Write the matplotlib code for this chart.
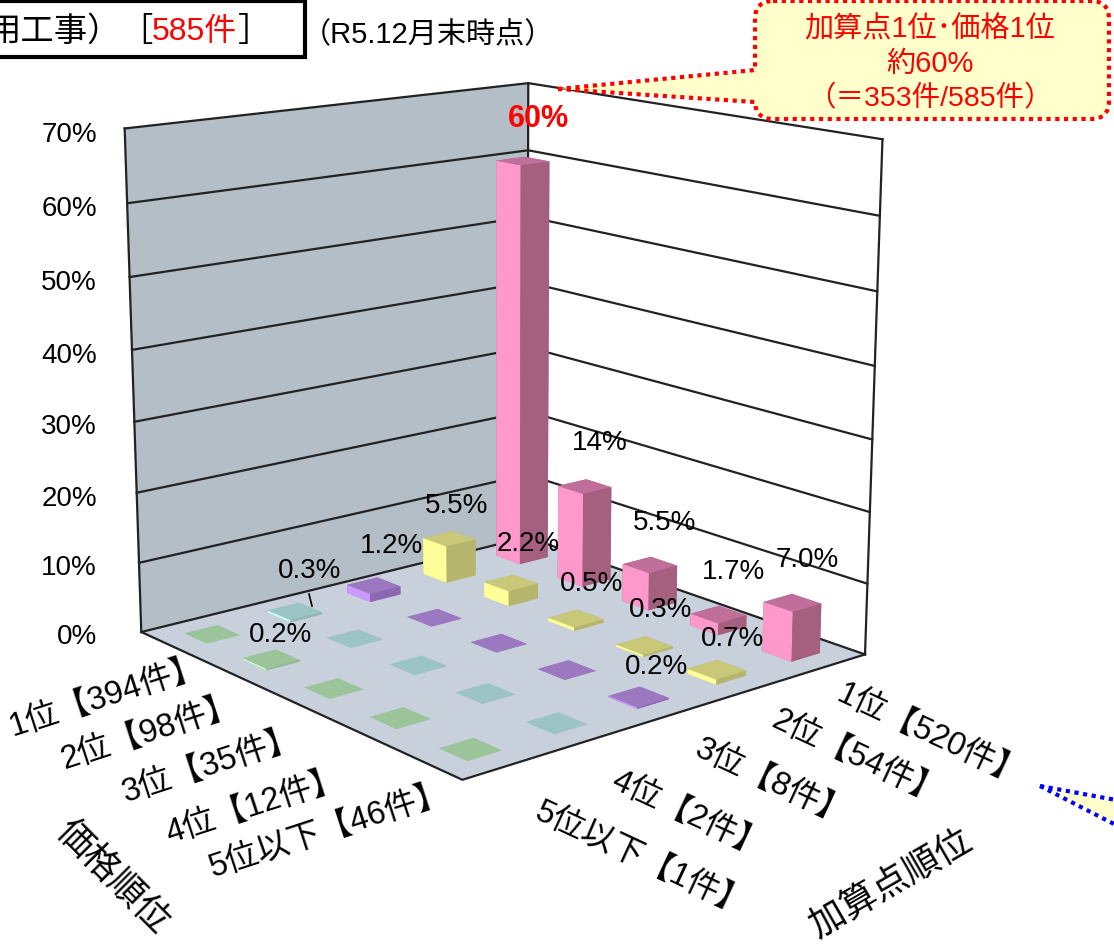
import matplotlib
matplotlib.use('Agg')
import matplotlib.pyplot as plt
from matplotlib.patches import FancyBboxPatch, Polygon, Rectangle
from mpl_toolkits.mplot3d.art3d import Poly3DCollection

plt.rcParams['font.family'] = ['Liberation Sans', 'Noto Sans CJK JP']

W, H = 1114, 945

price_labels = ['1位【394件】', '2位【98件】', '3位【35件】', '4位【12件】', '5位以下【46件】']
add_labels = ['1位【520件】', '2位【54件】', '3位【8件】', '4位【2件】', '5位以下【1件】']
z_ticks = [0, 10, 20, 30, 40, 50, 60, 70]

# rows: 加算点順位, columns: 価格順位 (percent)
add1 = [60, 14, 5.5, 1.7, 7.0]
add2 = [5.5, 2.2, 0.5, 0.3, 0.7]
add3 = [1.2, 0, 0, 0, 0.2]
add4 = [0.3, 0, 0, 0, 0]
add5 = [0, 0.2, 0, 0, 0]
rows = [add1, add2, add3, add4, add5]

# light side, dark side, top
row_colors = [
    ('#FF99CC', '#A5607F', '#BF6F99'),
    ('#FFFF99', '#B5B56E', '#C8C878'),
    ('#CC99FF', '#8C68B0', '#9C78C0'),
    ('#CCFFFF', '#8FB5B5', '#9CC4C4'),
    ('#CCFFCC', '#8FB58F', '#9BC49B'),
]

fig = plt.figure(figsize=(W / 100, H / 100), dpi=100)
ax = fig.add_axes([0, 0, 1, 1], projection='3d')
ax.computed_zorder = False
ax.set_axis_off()

# floor and walls
floor = [[(0, 0, 0), (5, 0, 0), (5, 5, 0), (0, 5, 0)]]
left_wall = [[(0, 0, 0), (5, 0, 0), (5, 0, 70), (0, 0, 70)]]
right_wall = [[(0, 0, 0), (0, 5, 0), (0, 5, 70), (0, 0, 70)]]
ax.add_collection3d(Poly3DCollection(left_wall, facecolors='#B4BEC6', edgecolors='none', zorder=1), autolim=False)
ax.add_collection3d(Poly3DCollection(right_wall, facecolors='white', edgecolors='none', zorder=1), autolim=False)
ax.add_collection3d(Poly3DCollection(floor, facecolors='#C8D0DC', edgecolors='none', zorder=1), autolim=False)

for z in z_ticks:
    ax.plot([5, 0, 0], [0, 0, 5], [z, z, z], color='#222222', lw=1.6, zorder=2)
ax.plot([5, 5, 0], [0, 5, 5], [0, 0, 0], color='#222222', lw=1.6, zorder=2)
for x, y in [(5, 0), (0, 0), (0, 5)]:
    ax.plot([x, x], [y, y], [0, 70], color='#222222', lw=1.6, zorder=2)

# bars, back to front; +x is the light face, +y the dark one
bar_w = 0.39
cells = sorted((i + j, i, j) for i in range(5) for j in range(5))
for order, i, j in cells:
    light, dark, top = row_colors[i]
    ax.bar3d(i + 0.5 - bar_w / 2, j + 0.5 - bar_w / 2, 0, bar_w, bar_w, rows[i][j],
             color=[top, top, dark, dark, dark, light], shade=False, edgecolor='none',
             zorder=3 + order)
ax.set_xlim(0, 5)
ax.set_ylim(0, 5)
ax.set_zlim(0, 70)

# camera fitted to the corners of the reference box
ax.view_init(elev=14.041, azim=50.198, roll=0)
ax.set_proj_type('persp', focal_length=0.58)
ax.set_box_aspect((1, 1.006, 1.001))
scale, cx, cy = 4775.288, 498.84, 395.29
vx = ax.viewLim.intervalx
vy = ax.viewLim.intervaly
left = cx + scale * vx[0]
top_px = cy - scale * vy[1]
side_w = scale * (vx[1] - vx[0])
side_h = scale * (vy[1] - vy[0])
ax.set_position([left / W, 1 - (top_px + side_h) / H, side_w / W, side_h / H])

# overlay in picture pixels for texts and callouts
ov = fig.add_axes([0, 0, 1, 1], zorder=10)
ov.set_xlim(0, W)
ov.set_ylim(H, 0)
ov.axis('off')

tick_y = [637, 568, 499, 427, 356, 283, 209, 135]
for z, y in zip(z_ticks, tick_y):
    ov.text(97, y, '%d%%' % z, fontsize=20, ha='right', va='center')

# data labels
value_labels = [
    ('14%', 600, 443), ('5.5%', 665, 523), ('1.7%', 733, 572), ('7.0%', 807, 560),
    ('5.5%', 457, 506), ('1.2%', 392, 546), ('0.3%', 310, 571), ('0.2%', 280, 635),
    ('2.2%', 528, 544), ('0.5%', 592, 584), ('0.3%', 661, 610), ('0.7%', 733, 639),
    ('0.2%', 656, 667),
]
for txt, x, y in value_labels:
    ov.text(x, y, txt, fontsize=20, ha='center', va='center')
ov.text(538, 119, '60%', fontsize=22, fontweight='bold', color='#FF0000', ha='center', va='center')
ov.plot([309, 312], [595, 607], color='black', lw=1.2)

# axis labels
price_xy = [(107, 697), (150, 732), (211, 765), (255, 806), (329, 830)]
for txt, (x, y) in zip(price_labels, price_xy):
    ov.text(x, y, txt, fontsize=23.5, rotation=18, ha='center', va='center', rotation_mode='anchor')
add_xy = [(930, 735), (857, 758), (772, 783), (689, 815), (642, 860)]
for txt, (x, y) in zip(add_labels, add_xy):
    ov.text(x, y, txt, fontsize=23.5, rotation=-25, ha='center', va='center', rotation_mode='anchor')
ov.text(112, 877, '価格順位', fontsize=26, rotation=-45, ha='center', va='center', rotation_mode='anchor')
ov.text(892, 885, '加算点順位', fontsize=26, rotation=30, ha='center', va='center', rotation_mode='anchor')

# title box, cut off on the left as in the source
ov.add_patch(Rectangle((-20, 2), 325, 56, fc='white', ec='black', lw=3))
ov.text(-12, 32, '用工事）', fontsize=24, ha='left', va='center')
ov.text(119, 32, '［', fontsize=24, ha='left', va='center')
ov.text(152, 32, '585件', fontsize=23, color='#FF0000', ha='left', va='center')
ov.text(238, 32, '］', fontsize=24, ha='left', va='center')
ov.text(302, 35, '（R5.12月末時点）', fontsize=21, ha='left', va='center')

# red callout
dots = (0, (1, 1.1))
ov.add_patch(FancyBboxPatch((768, 15), 328, 92, boxstyle='round,pad=13,rounding_size=18',
                            fc='#FFFFCC', ec='#FF0000', lw=3, ls=dots))
ov.add_patch(Polygon([(558, 90), (758, 72), (758, 103)], fc='#FFFFCC', ec='none', zorder=3))
ov.plot([558, 755], [90, 71], color='#FF0000', lw=3, ls=dots, zorder=4)
ov.plot([558, 755], [90, 103], color='#FF0000', lw=3, ls=dots, zorder=4)
ov.text(930, 29, '加算点1位･価格1位', fontsize=21, color='#FF0000', ha='center', va='center', zorder=5)
ov.text(930, 64, '約60%', fontsize=21, color='#FF0000', ha='center', va='center', zorder=5)
ov.text(930, 99, '（＝353件/585件）', fontsize=20.5, color='#FF0000', ha='center', va='center', zorder=5)

# blue callout tip at the right edge
ov.add_patch(Polygon([(1040, 787), (1116, 801), (1116, 826)], fc='#FFFFCC', ec='none'))
ov.plot([1040, 1116], [787, 801], color='#0000FF', lw=3, ls=dots)
ov.plot([1040, 1116], [787, 826], color='#0000FF', lw=3, ls=dots)

fig.savefig('out.png', dpi=100)
